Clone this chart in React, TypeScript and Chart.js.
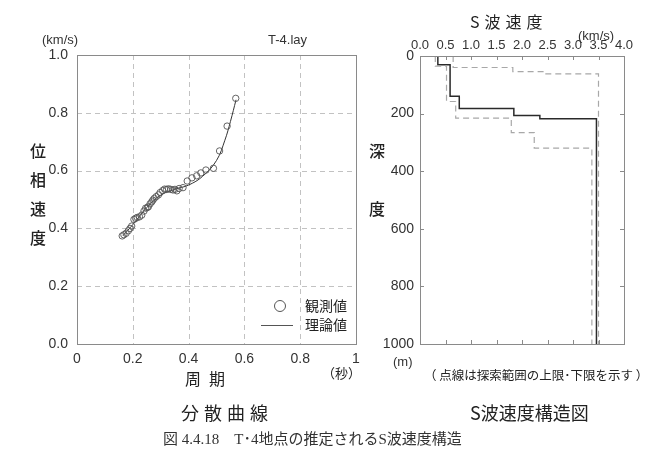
import React, { useEffect, useRef } from "react";
import { Chart, registerables } from "chart.js";

Chart.register(...registerables);

// ---- Dispersion curve (left) ----
const OBS_PERIOD = [0.162, 0.168, 0.176, 0.184, 0.19, 0.196, 0.204, 0.21, 0.216, 0.224, 0.232, 0.24, 0.246, 0.252, 0.256, 0.262, 0.268, 0.272, 0.277, 0.284, 0.292, 0.298, 0.307, 0.314, 0.321, 0.328, 0.336, 0.344, 0.351, 0.358, 0.366, 0.38, 0.395, 0.412, 0.429, 0.444, 0.462, 0.489, 0.511, 0.538, 0.569];
const OBS_VELOCITY = [0.374, 0.378, 0.383, 0.392, 0.4, 0.408, 0.431, 0.435, 0.438, 0.44, 0.446, 0.46, 0.47, 0.472, 0.475, 0.485, 0.492, 0.498, 0.504, 0.51, 0.516, 0.524, 0.531, 0.536, 0.535, 0.537, 0.535, 0.533, 0.535, 0.53, 0.538, 0.541, 0.564, 0.575, 0.582, 0.592, 0.602, 0.608, 0.668, 0.754, 0.85];
const THEORY_PERIOD = [0.165, 0.2, 0.25, 0.3, 0.35, 0.4, 0.45, 0.5, 0.53, 0.55, 0.57];
const THEORY_VELOCITY = [0.375, 0.413, 0.472, 0.515, 0.535, 0.55, 0.58, 0.635, 0.705, 0.77, 0.845];
const PERIOD_TICKS = [0, 0.2, 0.4, 0.6, 0.8, 1];
const VELOCITY_TICKS = [0, 0.2, 0.4, 0.6, 0.8, 1.0];

// ---- S-wave structure (right) ----
const MODEL_VS = [0.35, 0.35, 0.59, 0.59, 0.77, 0.77, 1.84, 1.84, 2.35, 2.35, 3.46, 3.46];
const MODEL_DEPTH = [0, 30, 30, 140, 140, 182, 182, 207, 207, 218, 218, 1000];
const LOWER_VS = [0.3, 0.3, 0.52, 0.52, 0.7, 0.7, 1.79, 1.79, 2.24, 2.24, 3.37, 3.37];
const LOWER_DEPTH = [0, 35, 35, 158, 158, 216, 216, 266, 266, 320, 320, 1000];
const UPPER_VS = [0.65, 0.65, 1.82, 1.82, 2.45, 2.45, 3.5, 3.5];
const UPPER_DEPTH = [0, 40, 40, 54, 54, 62, 62, 1000];
const VS_TICKS = [0, 0.5, 1, 1.5, 2, 2.5, 3, 3.5, 4];
const DEPTH_TICKS = [0, 200, 400, 600, 800, 1000];

const NUM_FONT = "'Liberation Sans', Arial, sans-serif";
const JP_FONT = "'Noto Sans CJK JP', 'Liberation Sans', sans-serif";

const pts = (xs: number[], ys: number[]) => xs.map((x, i) => ({ x, y: ys[i] }));

const boxPlugin = {
  id: "box",
  afterDraw(chart: any) {
    const { ctx, chartArea: a } = chart;
    ctx.save();
    ctx.strokeStyle = "#8a8a8a";
    ctx.lineWidth = 1;
    ctx.setLineDash([]);
    ctx.strokeRect(Math.round(a.left) + 0.5, Math.round(a.top) + 0.5, Math.round(a.right - a.left), Math.round(a.bottom - a.top));
    ctx.restore();
  },
};

const dashedGridPlugin = {
  id: "dashedGrid",
  beforeDatasetsDraw(chart: any) {
    const { ctx, chartArea: a, scales } = chart;
    ctx.save();
    ctx.strokeStyle = "#c2c2c2";
    ctx.lineWidth = 1;
    ctx.setLineDash([5, 4]);
    PERIOD_TICKS.slice(1, -1).forEach((v) => {
      const x = Math.round(scales.x.getPixelForValue(v)) + 0.5;
      ctx.beginPath();
      ctx.moveTo(x, a.top);
      ctx.lineTo(x, a.bottom);
      ctx.stroke();
    });
    VELOCITY_TICKS.slice(1, -1).forEach((v) => {
      const y = Math.round(scales.y.getPixelForValue(v)) + 0.5;
      ctx.beginPath();
      ctx.moveTo(a.left, y);
      ctx.lineTo(a.right, y);
      ctx.stroke();
    });
    ctx.restore();
  },
};

const legendPlugin = {
  id: "customLegend",
  afterDraw(chart: any) {
    const { ctx } = chart;
    ctx.save();
    ctx.strokeStyle = "#555";
    ctx.lineWidth = 1;
    ctx.beginPath();
    ctx.arc(280, 306, 5.5, 0, Math.PI * 2);
    ctx.stroke();
    ctx.beginPath();
    ctx.moveTo(261, 325.5);
    ctx.lineTo(293, 325.5);
    ctx.stroke();
    ctx.fillStyle = "#222";
    ctx.font = `14px ${JP_FONT}`;
    ctx.textBaseline = "middle";
    ctx.textAlign = "left";
    ctx.fillText("観測値", 305, 306);
    ctx.fillText("理論値", 305, 325);
    ctx.restore();
  },
};

const innerTicksPlugin = {
  id: "innerTicks",
  afterDraw(chart: any) {
    const { ctx, chartArea: a, scales } = chart;
    ctx.save();
    ctx.strokeStyle = "#8a8a8a";
    ctx.lineWidth = 1;
    const len = 4;
    VS_TICKS.forEach((v) => {
      const x = Math.round(scales.x.getPixelForValue(v)) + 0.5;
      ctx.beginPath();
      ctx.moveTo(x, a.top);
      ctx.lineTo(x, a.top + len);
      ctx.moveTo(x, a.bottom);
      ctx.lineTo(x, a.bottom - len);
      ctx.stroke();
    });
    DEPTH_TICKS.forEach((d) => {
      const y = Math.round(scales.y.getPixelForValue(d)) + 0.5;
      ctx.beginPath();
      ctx.moveTo(a.left, y);
      ctx.lineTo(a.left + len, y);
      ctx.moveTo(a.right, y);
      ctx.lineTo(a.right - len, y);
      ctx.stroke();
    });
    ctx.restore();
  },
};

function DispersionChart() {
  const ref = useRef<HTMLCanvasElement | null>(null);
  useEffect(() => {
    if (!ref.current) return;
    const chart = new Chart(ref.current, {
      type: "scatter",
      data: {
        datasets: [
          {
            label: "理論値",
            data: pts(THEORY_PERIOD, THEORY_VELOCITY),
            showLine: true,
            borderColor: "#333",
            borderWidth: 1,
            pointRadius: 0,
            tension: 0.4,
            order: 2,
          } as any,
          {
            label: "観測値",
            data: pts(OBS_PERIOD, OBS_VELOCITY),
            showLine: false,
            pointStyle: "circle",
            pointRadius: 3.2,
            borderColor: "#555",
            borderWidth: 0.9,
            backgroundColor: "rgba(255,255,255,0)",
            order: 1,
          },
        ],
      },
      options: {
        animation: false,
        responsive: false,
        layout: { padding: { top: 55, right: 14, left: 0, bottom: 0 } },
        plugins: { legend: { display: false }, tooltip: { enabled: false } },
        scales: {
          x: {
            type: "linear",
            min: 0,
            max: 1,
            afterFit: (s: any) => { s.height = 56; },
            afterBuildTicks: (s: any) => { s.ticks = PERIOD_TICKS.map((v) => ({ value: v })); },
            ticks: {
              padding: 7,
              color: "#333",
              font: { family: NUM_FONT, size: 14 },
              callback: (v: any) => (v === 0 ? "0" : v === 1 ? "1" : Number(v).toFixed(1)),
            },
            border: { display: false },
            grid: { display: false, drawTicks: false },
          } as any,
          y: {
            type: "linear",
            min: 0,
            max: 1,
            afterFit: (s: any) => { s.width = 77; },
            afterBuildTicks: (s: any) => { s.ticks = VELOCITY_TICKS.map((v) => ({ value: v })); },
            ticks: {
              padding: 9,
              color: "#333",
              font: { family: NUM_FONT, size: 14 },
              callback: (v: any) => Number(v).toFixed(1),
            },
            border: { display: false },
            grid: { display: false, drawTicks: false },
          } as any,
        },
      },
      plugins: [dashedGridPlugin, boxPlugin, legendPlugin],
    } as any);
    return () => chart.destroy();
  }, []);
  return <canvas ref={ref} width={370} height={400} style={{ position: "absolute", left: 0, top: 0, width: 370, height: 400 }} />;
}

function StructureChart() {
  const ref = useRef<HTMLCanvasElement | null>(null);
  useEffect(() => {
    if (!ref.current) return;
    const chart = new Chart(ref.current, {
      type: "scatter",
      data: {
        datasets: [
          {
            label: "下限",
            data: pts(LOWER_VS, LOWER_DEPTH),
            showLine: true,
            borderColor: "#a8a8a8",
            borderWidth: 1.2,
            borderDash: [6, 4],
            pointRadius: 0,
            tension: 0,
          },
          {
            label: "上限",
            data: pts(UPPER_VS, UPPER_DEPTH),
            showLine: true,
            borderColor: "#a8a8a8",
            borderWidth: 1.2,
            borderDash: [6, 4],
            pointRadius: 0,
            tension: 0,
          },
          {
            label: "推定",
            data: pts(MODEL_VS, MODEL_DEPTH),
            showLine: true,
            borderColor: "#2a2a2a",
            borderWidth: 1.5,
            pointRadius: 0,
            tension: 0,
          },
        ],
      },
      options: {
        animation: false,
        responsive: false,
        layout: { padding: { top: 0, right: 23, left: 0, bottom: 56 } },
        plugins: { legend: { display: false }, tooltip: { enabled: false } },
        scales: {
          x: {
            type: "linear",
            position: "top",
            min: 0,
            max: 4,
            afterFit: (s: any) => { s.height = 56; },
            afterBuildTicks: (s: any) => { s.ticks = VS_TICKS.map((v) => ({ value: v })); },
            ticks: {
              padding: 3,
              color: "#333",
              font: { family: NUM_FONT, size: 13 },
              callback: (v: any) => Number(v).toFixed(1),
            },
            border: { display: false },
            grid: { display: false, drawTicks: false },
          } as any,
          y: {
            type: "linear",
            reverse: true,
            min: 0,
            max: 1000,
            afterFit: (s: any) => { s.width = 60; },
            afterBuildTicks: (s: any) => { s.ticks = DEPTH_TICKS.map((v) => ({ value: v })); },
            ticks: {
              padding: 6,
              color: "#333",
              font: { family: NUM_FONT, size: 14 },
              callback: (v: any) => String(v),
            },
            border: { display: false },
            grid: { display: false, drawTicks: false },
          } as any,
        },
      },
      plugins: [boxPlugin, innerTicksPlugin],
    } as any);
    return () => chart.destroy();
  }, []);
  return <canvas ref={ref} width={287} height={400} style={{ position: "absolute", left: 360, top: 0, width: 287, height: 400 }} />;
}

const txt = (extra: React.CSSProperties): React.CSSProperties => ({
  position: "absolute",
  whiteSpace: "nowrap",
  color: "#222",
  fontFamily: JP_FONT,
  lineHeight: 1,
  ...extra,
});

export default function App() {
  return (
    <div style={{ position: "absolute", left: 0, top: 0, width: 647, height: 469, background: "#fff", overflow: "hidden" }}>
      <DispersionChart />
      <StructureChart />
      {/* left chart texts */}
      <div style={txt({ left: 42, top: 33, fontSize: 13, fontFamily: NUM_FONT, color: "#333" })}>(km/s)</div>
      <div style={txt({ left: 268, top: 33, fontSize: 13, fontFamily: NUM_FONT, color: "#333" })}>T-4.lay</div>
      {["位", "相", "速", "度"].map((c, i) => (
        <div key={c} style={txt({ left: 30, top: 142 + i * 29, fontSize: 16, fontWeight: 500 })}>{c}</div>
      ))}
      <div style={txt({ left: 185, top: 370, fontSize: 16, letterSpacing: 8 })}>周期</div>
      <div style={txt({ left: 322, top: 366, fontSize: 13 })}>（秒）</div>
      <div style={txt({ left: 181, top: 403, fontSize: 18, letterSpacing: 5 })}>分散曲線</div>
      {/* right chart texts */}
      <div style={txt({ left: 470, top: 13, fontSize: 16, letterSpacing: 5 })}>S波速度</div>
      <div style={txt({ left: 578, top: 29, fontSize: 13, fontFamily: NUM_FONT, color: "#333" })}>(km/s)</div>
      <div style={txt({ left: 369, top: 142, fontSize: 16, fontWeight: 500 })}>深</div>
      <div style={txt({ left: 369, top: 200, fontSize: 16, fontWeight: 500 })}>度</div>
      <div style={txt({ left: 393, top: 355, fontSize: 13, fontFamily: NUM_FONT, color: "#333" })}>(m)</div>
      <div style={txt({ left: 424, top: 369, fontSize: 12.5 })}>（ 点線は探索範囲の上限･下限を示す ）</div>
      <div style={txt({ left: 470, top: 403, fontSize: 18 })}>S波速度構造図</div>
      {/* caption */}
      <div style={txt({ left: 163, top: 432, fontSize: 15, fontFamily: "'Liberation Serif', 'DejaVu Serif', 'Noto Sans CJK JP', serif", color: "#333" })}>
        図 4.4.18　T･4地点の推定されるS波速度構造
      </div>
    </div>
  );
}
